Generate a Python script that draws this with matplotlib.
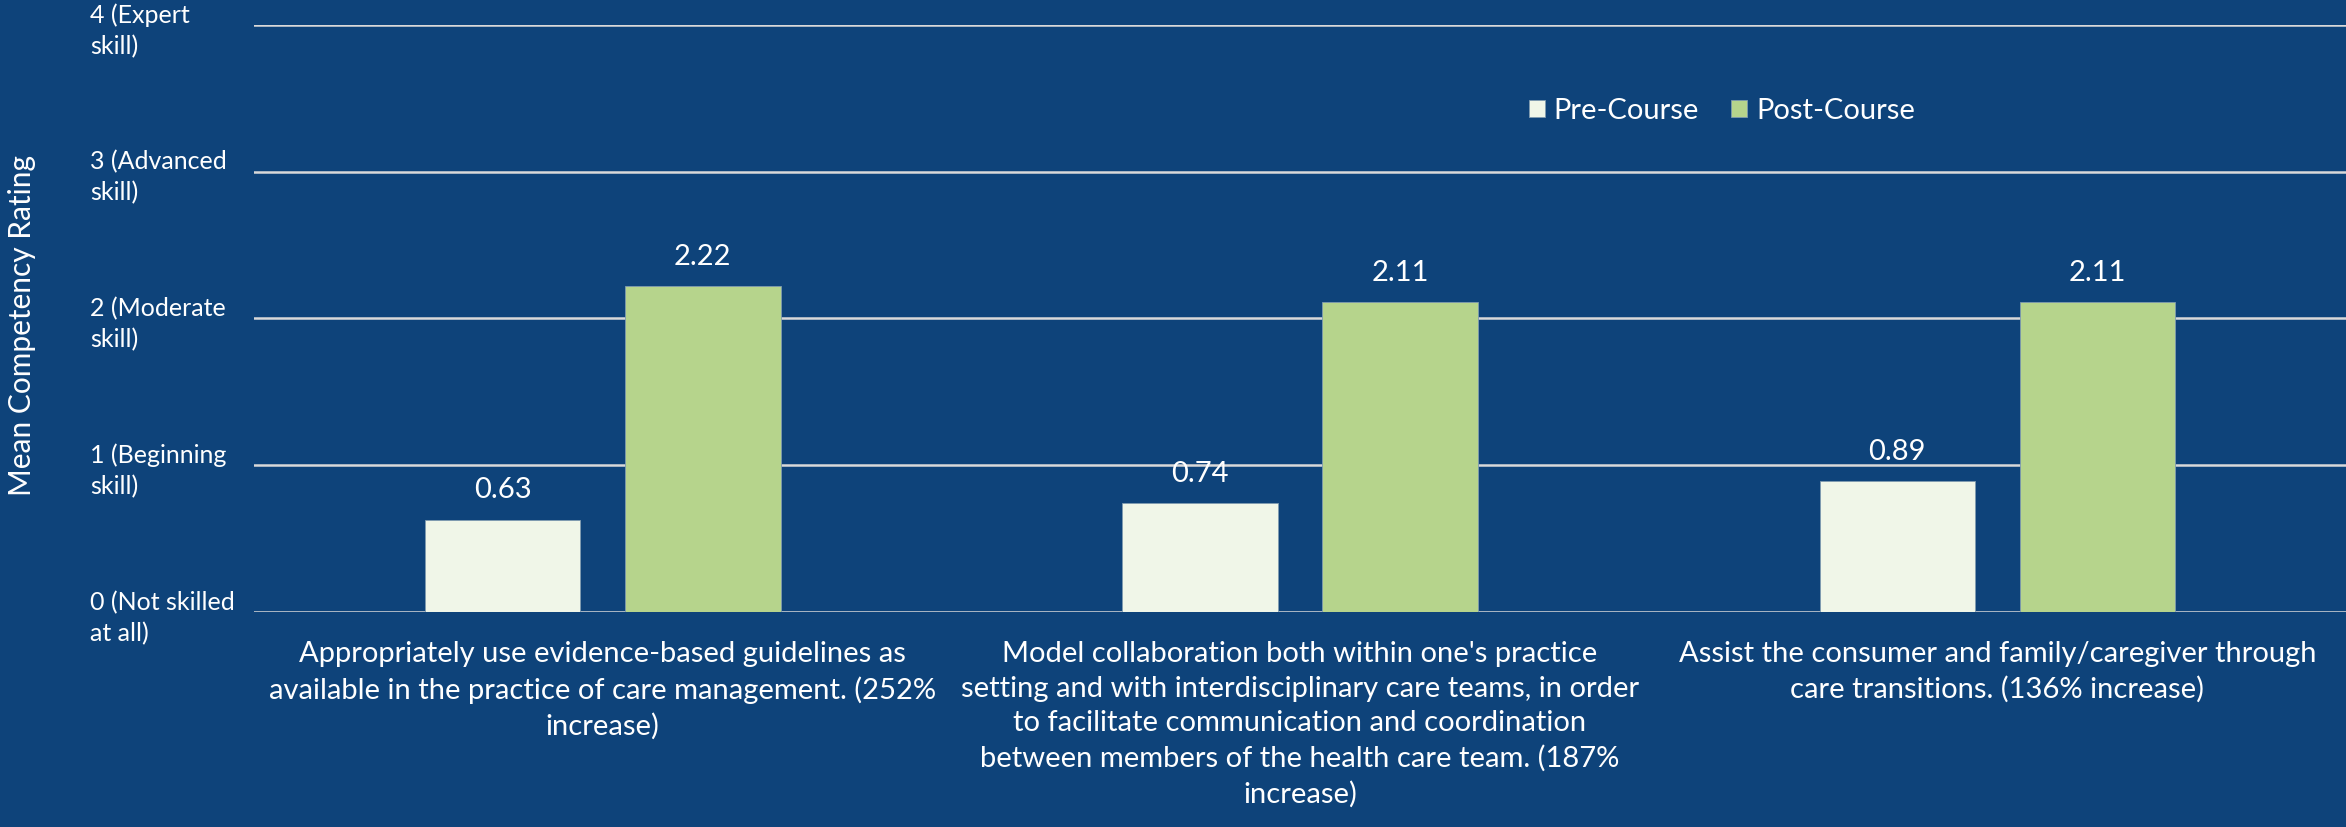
import numpy as np
import matplotlib.pyplot as plt

plt.rcParams['font.family'] = ['Lato', 'DejaVu Sans']

# chart data
categories = [
    "Appropriately use evidence-based guidelines as\navailable in the practice of care management. (252%\nincrease)",
    "Model collaboration both within one's practice\nsetting and with interdisciplinary care teams, in order\nto facilitate communication and coordination\nbetween members of the health care team. (187%\nincrease)",
    "Assist the consumer and family/caregiver through\ncare transitions. (136% increase)",
]
pre_course = [0.63, 0.74, 0.89]
post_course = [2.22, 2.11, 2.11]
y_ticks = [0, 1, 2, 3, 4]
y_labels = ["0 (Not skilled\nat all)", "1 (Beginning\nskill)", "2 (Moderate\nskill)",
            "3 (Advanced\nskill)", "4 (Expert\nskill)"]

bg = '#0E437A'
pre_color = '#F0F6E8'
post_color = '#B6D48C'

fig = plt.figure(figsize=(23.46, 8.27), dpi=100, facecolor=bg)
ax = fig.add_axes([0.1083, 0.26, 0.8917, 0.7098], facecolor=bg)

x = np.arange(len(categories))
w = 0.223
off = 0.1435
b1 = ax.bar(x - off, pre_course, w, color=pre_color, edgecolor='#7F9BB0', linewidth=0.6,
            label='Pre-Course', zorder=3)
b2 = ax.bar(x + off, post_course, w, color=post_color, edgecolor='#7F9BB0', linewidth=0.6,
            label='Post-Course', zorder=3)

for bars, vals in [(b1, pre_course), (b2, post_course)]:
    ax.bar_label(bars, labels=[f'{v:.2f}' for v in vals], padding=12,
                 color='white', fontsize=21)

ax.set_xlim(-0.5, 2.5)
ax.set_ylim(0, 4)
ax.set_yticks(y_ticks)
ax.set_yticklabels(y_labels, ha='left', color='white', fontsize=18, linespacing=1.4)
ax.tick_params(axis='y', length=0, pad=118)
ax.set_xticks(x)
ax.set_xticklabels(categories, color='white', fontsize=21, linespacing=1.41)
ax.tick_params(axis='x', length=0, pad=21)

ax.yaxis.grid(True, color='#D9D9D9', linewidth=1.8, zorder=0)
ax.set_axisbelow(True)
for s in ax.spines.values():
    s.set_visible(False)

fig.text(0.0094, 0.606, 'Mean Competency Rating', rotation=90, color='white',
         fontsize=21.5, ha='center', va='center')

leg = fig.legend(loc='center', bbox_to_anchor=(0.734, 0.866), ncol=2, frameon=False,
                 fontsize=21, handlelength=0.55, handleheight=0.55, handletextpad=0.3,
                 columnspacing=1.1)
for t in leg.get_texts():
    t.set_color('white')

fig.savefig('out.png', dpi=100, facecolor=bg)
